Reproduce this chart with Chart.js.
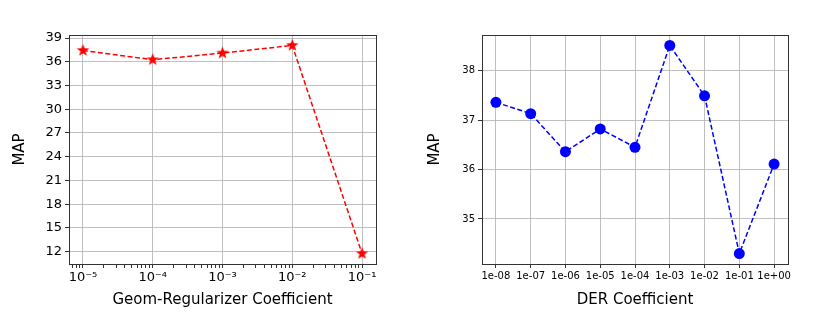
<!DOCTYPE html>
<html>
<head>
<meta charset="utf-8">
<script src="https://cdn.jsdelivr.net/npm/chart.js@4.4.0/dist/chart.umd.min.js"></script>
<style>
  html, body { margin: 0; padding: 0; background: #fff; }
  #wrap { position: relative; width: 831px; height: 315px; }
  .box { position: absolute; top: 0; height: 315px; }
  #left { left: 0; width: 415px; }
  #right { left: 415px; width: 416px; }
</style>
</head>
<body>
<div id="wrap">
  <div class="box" id="left"><canvas id="geomChart"></canvas></div>
  <div class="box" id="right"><canvas id="derChart"></canvas></div>
</div>
<script>
// Left panel: Geom-Regularizer sweep (log x axis)
const geomCoef = [1e-5, 1e-4, 1e-3, 1e-2, 1e-1];
const geomMap = [37.43, 36.26, 37.10, 38.07, 11.75];
const geomYTicks = [12, 15, 18, 21, 24, 27, 30, 33, 36, 39];
const geomDecades = [-5, -4, -3, -2, -1];

// Right panel: DER sweep (categorical x axis)
const derLabels = ['1e-08', '1e-07', '1e-06', '1e-05', '1e-04', '1e-03', '1e-02', '1e-01', '1e+00'];
const derMap = [37.36, 37.13, 36.36, 36.82, 36.45, 38.51, 37.49, 34.30, 36.11];
const derYTicks = [35, 36, 37, 38];

const tickFont = 'DejaVu Sans';
const titleFont = "'Comic Sans MS', 'DejaVu Sans'";
const gridColor = 'rgba(176,176,176,0.8)';
const spineColor = '#333';

Chart.defaults.animation = false;
Chart.defaults.events = [];

const sup = { '-': '\u207b', '0': '\u2070', '1': '\u00b9', '2': '\u00b2', '3': '\u00b3',
  '4': '\u2074', '5': '\u2075', '6': '\u2076', '7': '\u2077', '8': '\u2078', '9': '\u2079' };
function powLabel(exp) {
    return '10' + String(exp).split('').map(c => sup[c]).join('');
}

// matplotlib-like 5% margins around the data
function padRange(vals, frac) {
    const lo = Math.min(...vals), hi = Math.max(...vals);
    const p = (hi - lo) * frac;
    return [lo - p, hi + p];
}

// filled star marker
function starImage(r, color) {
    const c = document.createElement('canvas');
    const s = Math.ceil(r * 2 + 2);
    c.width = c.height = s;
    const g = c.getContext('2d');
    g.beginPath();
    for (let i = 0; i < 10; i++) {
        const rad = i % 2 ? r * 0.42 : r;
        const a = -Math.PI / 2 + i * Math.PI / 5;
        const px = s / 2 + rad * Math.cos(a), py = s / 2 + rad * Math.sin(a);
        if (i === 0) g.moveTo(px, py); else g.lineTo(px, py);
    }
    g.closePath();
    g.fillStyle = color;
    g.fill();
    return c;
}

// box around the plot area
const framePlugin = {
    id: 'frame',
    afterDraw(chart) {
        const a = chart.chartArea, ctx = chart.ctx;
        ctx.save();
        ctx.strokeStyle = spineColor;
        ctx.lineWidth = 1;
        ctx.strokeRect(Math.round(a.left) + 0.5, Math.round(a.top) + 0.5,
            Math.round(a.right - a.left), Math.round(a.bottom - a.top));
        ctx.restore();
    }
};

function yTitle() {
    return { display: true, text: 'MAP', color: '#000', font: { family: titleFont, size: 15 }, padding: { top: 11, bottom: 0 } };
}
function xTitle(text) {
    return { display: true, text: text, color: '#000', font: { family: titleFont, size: 15 }, padding: { top: 4, bottom: 6 } };
}

// ---------- left chart ----------
const gx = padRange(geomDecades, 0.05);
const gy = padRange(geomMap, 0.05);

new Chart(document.getElementById('geomChart'), {
    type: 'line',
    data: {
        datasets: [{
            data: geomCoef.map((c, i) => ({ x: c, y: geomMap[i] })),
            borderColor: '#ff0000',
            backgroundColor: '#ff0000',
            borderWidth: 1.5,
            borderDash: [5, 2.5],
            pointStyle: starImage(6.5, '#ff0000'),
            pointRadius: 6,
            fill: false,
            tension: 0
        }]
    },
    options: {
        responsive: true,
        maintainAspectRatio: false,
        devicePixelRatio: 1,
        layout: { padding: { top: 35, right: 39, left: 0, bottom: 0 } },
        plugins: { legend: { display: false }, tooltip: { enabled: false } },
        scales: {
            x: {
                type: 'logarithmic',
                min: Math.pow(10, gx[0]),
                max: Math.pow(10, gx[1]),
                afterBuildTicks: function(scale) {
                    const ticks = [];
                    for (let d = -6; d <= 0; d++) {
                        for (let m = 1; m <= 9; m++) {
                            const v = m * Math.pow(10, d);
                            if (v >= scale.min && v <= scale.max) {
                                ticks.push({ value: v, isMajor: m === 1, exp: d });
                            }
                        }
                    }
                    scale.ticks = ticks;
                },
                afterFit: function(scale) { scale.height = 51; },
                border: { display: false },
                grid: {
                    color: ctx => (ctx.tick && ctx.tick.isMajor) ? gridColor : 'rgba(0,0,0,0)',
                    tickColor: spineColor,
                    tickLength: 4,
                    lineWidth: 1
                },
                ticks: {
                    autoSkip: false,
                    maxRotation: 0,
                    padding: 2,
                    color: '#000',
                    font: { family: tickFont, size: 13 },
                    callback: function(value, index, ticks) {
                        const t = ticks[index];
                        return t.isMajor ? powLabel(t.exp) : '';
                    }
                },
                title: xTitle('Geom-Regularizer Coefficient')
            },
            y: {
                min: gy[0],
                max: gy[1],
                afterBuildTicks: function(scale) {
                    scale.ticks = geomYTicks.map(v => ({ value: v }));
                },
                afterFit: function(scale) { scale.width = 69; },
                border: { display: false },
                grid: { color: gridColor, tickColor: spineColor, tickLength: 4, lineWidth: 1 },
                ticks: {
                    padding: 3,
                    color: '#000',
                    font: { family: tickFont, size: 13 }
                },
                title: yTitle()
            }
        }
    },
    plugins: [framePlugin]
});

// ---------- right chart ----------
const dy = padRange(derMap, 0.05);
const dx = padRange(derLabels.map((_, i) => i), 0.05);

new Chart(document.getElementById('derChart'), {
    type: 'line',
    data: {
        datasets: [{
            data: derMap.map((v, i) => ({ x: i, y: v })),
            borderColor: '#0000ff',
            backgroundColor: '#0000ff',
            borderWidth: 1.5,
            borderDash: [5, 2.5],
            pointStyle: 'circle',
            pointRadius: 5.5,
            pointBorderWidth: 0,
            fill: false,
            tension: 0
        }]
    },
    options: {
        responsive: true,
        maintainAspectRatio: false,
        devicePixelRatio: 1,
        layout: { padding: { top: 35, right: 43, left: 0, bottom: 0 } },
        plugins: { legend: { display: false }, tooltip: { enabled: false } },
        scales: {
            x: {
                type: 'linear',
                min: dx[0],
                max: dx[1],
                afterBuildTicks: function(scale) {
                    scale.ticks = derLabels.map((_, i) => ({ value: i }));
                },
                afterFit: function(scale) { scale.height = 51; },
                border: { display: false },
                grid: { color: gridColor, tickColor: spineColor, tickLength: 4, lineWidth: 1 },
                ticks: {
                    autoSkip: false,
                    maxRotation: 0,
                    padding: 2,
                    color: '#000',
                    font: { family: tickFont, size: 10 },
                    callback: value => derLabels[value]
                },
                title: xTitle('DER Coefficient')
            },
            y: {
                min: dy[0],
                max: dy[1],
                afterBuildTicks: function(scale) {
                    scale.ticks = derYTicks.map(v => ({ value: v }));
                },
                afterFit: function(scale) { scale.width = 67; },
                border: { display: false },
                grid: { color: gridColor, tickColor: spineColor, tickLength: 4, lineWidth: 1 },
                ticks: {
                    padding: 3,
                    color: '#000',
                    font: { family: tickFont, size: 10 }
                },
                title: yTitle()
            }
        }
    },
    plugins: [framePlugin]
});
</script>
</body>
</html>
